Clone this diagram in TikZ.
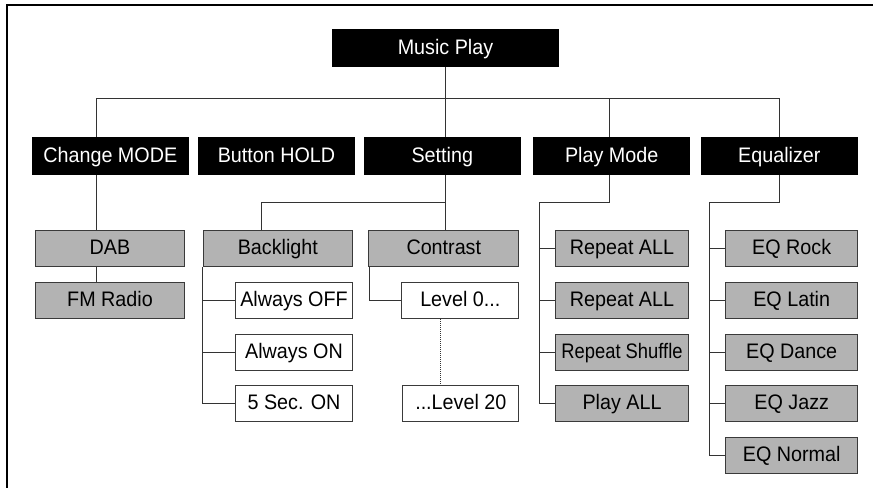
\documentclass[tikz,border=0pt]{standalone}
\usepackage{fontspec}
\setmainfont{Liberation Sans}[FakeStretch=0.94]
\definecolor{boxgray}{HTML}{B3B3B3}
\definecolor{edge}{HTML}{3A3A3A}
\definecolor{linec}{HTML}{333333}
\tikzset{
  base/.style={inner sep=0pt, minimum height=36pt, font=\fontsize{21}{25}\selectfont, text height=15pt, text depth=3pt},
  hdr/.style={base, fill=black, text=white, minimum width=157pt, minimum height=37.5pt},
  gbox/.style={base, fill=boxgray, draw=edge, line width=1pt},
  wbox/.style={base, fill=white, draw=edge, line width=1pt},
  conn/.style={draw=linec, line width=1pt},
  frame/.style={draw=black, line width=2pt}
}
\begin{document}
\begin{tikzpicture}[x=1pt, y=-1pt]
\useasboundingbox (0,0) rectangle (882,487);
% frame
\draw[frame] (7,488) -- (7,5.5) -- (873,5.5);
% top
\node[hdr, minimum width=227pt, minimum height=38pt] (music) at (445.5,48) {Music Play};
% level 1
\node[hdr] (cmode) at (110.3,156) {Change MODE};
\node[hdr] (bhold) at (276.5,156) {Button HOLD};
\node[hdr] (setting) at (442.3,156) {Setting};
\node[hdr] (pmode) at (611.7,156) {Play Mode};
\node[hdr] (equal) at (779.3,156) {Equalizer};
% change mode children
\node[gbox, minimum width=149pt] (dab) at (110,248.5) {DAB};
\node[gbox, minimum width=149pt] (fm) at (110,300.8) {FM Radio};
% setting children
\node[gbox, minimum width=149pt] (back) at (277.8,248.5) {Backlight};
\node[gbox, minimum width=150pt] (contrast) at (443.8,248.5) {Contrast};
\node[wbox, minimum width=117pt] (aoff) at (294,300.8) {Always OFF};
\node[wbox, minimum width=117pt] (aon) at (294,352.2) {Always ON};
\node[wbox, minimum width=117pt] (sec) at (294,403.7) {5 Sec. ON};
\node[wbox, minimum width=117pt] (lvl0) at (460.3,300.8) {Level 0...};
\node[wbox, minimum width=116pt] (lvl20) at (460.8,403.7) {...Level 20};
% play mode children
\node[gbox, minimum width=132.5pt] (rep1) at (622,248.5) {Repeat ALL};
\node[gbox, minimum width=132.5pt] (rep2) at (622,300.8) {Repeat ALL};
\node[gbox, minimum width=132.5pt] (shuf) at (622,352.2) {\scalebox{0.93}[1]{Repeat Shuffle}};
\node[gbox, minimum width=132.5pt] (pall) at (622,403.7) {Play ALL};
% equalizer children
\node[gbox, minimum width=132pt] (eqr) at (791.7,248.5) {EQ Rock};
\node[gbox, minimum width=132pt] (eql) at (791.7,300.8) {EQ Latin};
\node[gbox, minimum width=132pt] (eqd) at (791.7,352.2) {EQ Dance};
\node[gbox, minimum width=132pt] (eqj) at (791.7,403.7) {EQ Jazz};
\node[gbox, minimum width=132pt] (eqn) at (791.7,455.8) {EQ Normal};
% bus
\coordinate (busL) at (96,98.3);
\coordinate (busR) at (779,98.3);
\coordinate (busP) at (609,98.3);
\draw[conn] (music.south -| 445.7,0) -- (setting.north -| 445.7,0);
\draw[conn] (cmode.north -| busL) -- (busL) -- (busR) -- (busR |- equal.north);
\draw[conn] (busP) -- (busP |- pmode.north);
% change mode
\draw[conn] (cmode.south -| busL) -- (dab.north -| busL);
\draw[conn] (dab.south -| busL) -- (fm.north -| busL);
% setting
\coordinate (sj) at (445.7,202.7);
\coordinate (bj) at (261,202.7);
\draw[conn] (setting.south -| sj) -- (contrast.north -| sj);
\draw[conn] (sj) -- (bj) -- (bj |- back.north);
% backlight
\draw[conn] (back.south west) -- (back.south west |- sec.west) -- (sec.west);
\draw[conn] (back.south west |- aoff.west) -- (aoff.west);
\draw[conn] (back.south west |- aon.west) -- (aon.west);
% contrast
\coordinate (cx) at (369.3,0);
\draw[conn] (contrast.south -| cx) -- (cx |- lvl0.west) -- (lvl0.west);
\coordinate (dx) at (440.3,0);
\draw[conn, densely dotted] (lvl0.south -| dx) -- (lvl20.north -| dx);
% play mode
\coordinate (pj) at (609,202.7);
\coordinate (pl) at (539,202.7);
\draw[conn] (pmode.south -| pj) -- (pj) -- (pl) -- (pl |- pall.west) -- (pall.west);
\draw[conn] (pl |- rep1.west) -- (rep1.west);
\draw[conn] (pl |- rep2.west) -- (rep2.west);
\draw[conn] (pl |- shuf.west) -- (shuf.west);
% equalizer
\coordinate (ej) at (779,202.7);
\coordinate (el) at (709.3,202.7);
\draw[conn] (equal.south -| ej) -- (ej) -- (el) -- (el |- eqn.west) -- (eqn.west);
\draw[conn] (el |- eqr.west) -- (eqr.west);
\draw[conn] (el |- eql.west) -- (eql.west);
\draw[conn] (el |- eqd.west) -- (eqd.west);
\draw[conn] (el |- eqj.west) -- (eqj.west);
\end{tikzpicture}
\end{document}
